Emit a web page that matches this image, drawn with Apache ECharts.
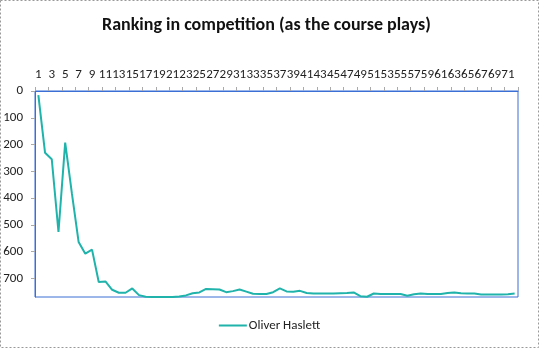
<!DOCTYPE html>
<html><head><meta charset="utf-8">
<script src="https://cdn.jsdelivr.net/npm/echarts@6/dist/echarts.min.js"></script>
<style>html,body{margin:0;padding:0;background:#fff}#c{width:539px;height:348px}</style>
</head><body><div id="c"></div>
<script>
const title = "Ranking in competition (as the course plays)";
const seriesName = "Oliver Haslett";
const holes = [];
for (let i = 1; i <= 72; i++) holes.push(String(i));
const ranking = [15,231,255,527,193,383,564,608,593,714,712,743,754,754,738,763,769,770,770,770,
 770,768,764,756,753,740,741,742,752,748,742,750,758,759,759,752,738,749,750,747,
 755,757,757,757,757,756,755,753,767,769,757,759,759,759,759,765,760,757,759,759,
 759,755,753,756,757,757,761,761,761,761,760,757];
const yMin = 0, yMax = 770, yStep = 100;

const chart = echarts.init(document.getElementById('c'), null, {renderer:'canvas'});
const font = 'Carlito, "Liberation Sans", Arial, sans-serif';
chart.setOption({
  animation:false,
  backgroundColor:'#fff',
  title:{text:title,left:97,top:11,textStyle:{fontFamily:font,fontSize:18,fontWeight:'bold',color:'#111'}},
  legend:{bottom:11,left:'center',itemWidth:28,itemHeight:2,icon:'rect',itemGap:4,
    textStyle:{fontFamily:font,fontSize:13,color:'#222',padding:[0,0,0,-3]},data:[seriesName]},
  grid:{left:35,right:21,top:91,bottom:51,outerBoundsMode:'none',containLabel:false,show:true,borderColor:'#3b6fd6',borderWidth:1},
  xAxis:{type:'category',position:'top',data:holes,boundaryGap:true,
    axisLine:{lineStyle:{color:'#3b6fd6'}},
    axisTick:{show:true,length:4,lineStyle:{color:'#aaa'}},
    axisLabel:{interval:1,margin:10,fontFamily:font,fontSize:13,color:'#222'}},
  yAxis:{type:'value',inverse:true,min:yMin,max:yMax,interval:yStep,
    axisLine:{show:true,lineStyle:{color:'#3b6fd6'}},
    axisTick:{show:true,length:4,lineStyle:{color:'#aaa'}},
    splitLine:{show:false},
    axisLabel:{showMaxLabel:false,margin:12,fontFamily:font,fontSize:13,color:'#222'}},
  series:[{name:seriesName,type:'line',data:ranking,symbol:'none',
    lineStyle:{color:'#1fb3ab',width:2},itemStyle:{color:'#1fb3ab'}}],
  graphic:[{type:'rect',shape:{x:0.5,y:0.5,width:538,height:347},
    style:{fill:null,stroke:'#999',lineWidth:1,lineDash:[2,2]}}]
});
</script></body></html>
